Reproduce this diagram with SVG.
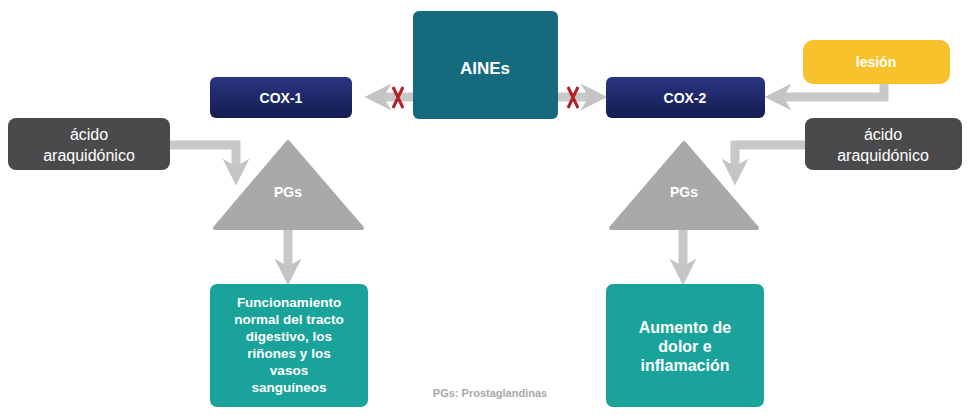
<svg xmlns="http://www.w3.org/2000/svg" width="970" height="416" viewBox="0 0 970 416">
<defs>
<linearGradient id="nav" x1="0" y1="0" x2="0" y2="1"><stop offset="0" stop-color="#2a3580"/><stop offset="1" stop-color="#141c52"/></linearGradient>
<marker id="ah" viewBox="0 0 10 10" refX="5" refY="5" markerWidth="3" markerHeight="3" orient="auto" markerUnits="strokeWidth"><path d="M0,0 L10,5 L0,10 L3,5 z" fill="#c4c4c4"/></marker>
<style>
.t{font-family:"Liberation Sans",Arial,sans-serif;fill:#fff;text-anchor:middle}
.b{font-weight:bold}
.c{fill:none;stroke:#c8c8c8;stroke-width:9;marker-end:url(#ah)}
.x{fill:none;stroke:#b3202a;stroke-width:3}
</style>
</defs>
<rect width="970" height="416" fill="#fff"/>
<g id="connectors">
<path class="c" d="M413,97 H378"/>
<path class="c" d="M558,97 H594"/>
<path class="c" d="M884,84 V97 H778"/>
<path class="c" d="M170,145 H236 V172"/>
<path class="c" d="M805,145 H735 V172"/>
<path class="c" d="M288,228 V272"/>
<path class="c" d="M683,228 V272"/>
<path class="x" d="M393,87 L403,108 M403,87 L393,108"/>
<path class="x" d="M568,87 L578,108 M578,87 L568,108"/>
</g>
<g id="aines"><rect x="413" y="11" width="145" height="108" rx="6" fill="#156a7e"/><text class="t b" x="485" y="74" font-size="17">AINEs</text></g>
<g id="cox1"><rect x="210" y="77" width="142" height="41" rx="6" fill="url(#nav)"/><text class="t b" x="281" y="103" font-size="14">COX-1</text></g>
<g id="cox2"><rect x="606" y="77" width="159" height="41" rx="6" fill="url(#nav)"/><text class="t b" x="685" y="103" font-size="14">COX-2</text></g>
<g id="lesion"><rect x="803" y="40" width="147" height="44" rx="10" fill="#f7c22c"/><text class="t b" x="876" y="67" font-size="14">lesión</text></g>
<g id="acido1"><rect x="8" y="118" width="162" height="52" rx="8" fill="#4a4a4c"/><text class="t" font-size="16"><tspan x="89" y="140">ácido</tspan><tspan x="89" y="161">araquidónico</tspan></text></g>
<g id="acido2"><rect x="805" y="118" width="157" height="52" rx="8" fill="#4a4a4c"/><text class="t" font-size="16"><tspan x="883" y="140">ácido</tspan><tspan x="883" y="161">araquidónico</tspan></text></g>
<g id="pgs1"><path d="M288,142 L362,228 H215 Z" fill="#a9a9a9" stroke="#a9a9a9" stroke-width="4" stroke-linejoin="round"/><text class="t b" x="288" y="197" font-size="14">PGs</text></g>
<g id="pgs2"><path d="M684,143 L757,228 H611 Z" fill="#a9a9a9" stroke="#a9a9a9" stroke-width="4" stroke-linejoin="round"/><text class="t b" x="684" y="197" font-size="14">PGs</text></g>
<g id="out1"><rect x="210" y="284" width="158" height="123" rx="7" fill="#1aa39a"/><text class="t b" font-size="13.5"><tspan x="289" y="307">Funcionamiento</tspan><tspan x="289" y="324">normal del tracto</tspan><tspan x="289" y="341">digestivo, los</tspan><tspan x="289" y="358">riñones y los</tspan><tspan x="289" y="375">vasos</tspan><tspan x="289" y="392">sanguíneos</tspan></text></g>
<g id="out2"><rect x="606" y="284" width="158" height="123" rx="7" fill="#1aa39a"/><text class="t b" font-size="16"><tspan x="685" y="333">Aumento de</tspan><tspan x="685" y="352">dolor e</tspan><tspan x="685" y="371">inflamación</tspan></text></g>
<text class="b" x="490" y="397" font-size="11" fill="#a8a8a8" text-anchor="middle" font-family="Liberation Sans,Arial,sans-serif">PGs: Prostaglandinas</text>
</svg>
